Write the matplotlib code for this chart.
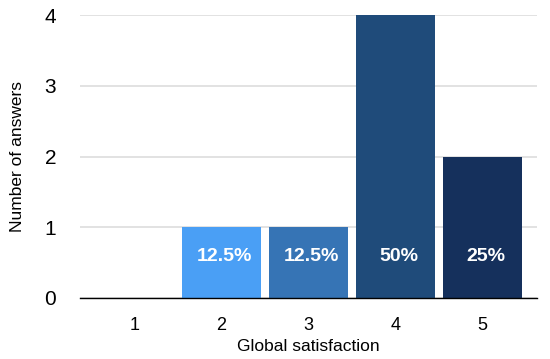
import matplotlib
matplotlib.use("Agg")
from matplotlib import pyplot as plt

plt.rcParams["font.family"] = ["Liberation Sans", "DejaVu Sans"]

# 数据
categories = [1, 2, 3, 4, 5]
answers = [0, 1, 1, 4, 2]
percent_labels = ["", "12.5%", "12.5%", "50%", "25%"]
bar_colors = ["#4A9FF5", "#4A9FF5", "#3674B5", "#1F4B7A", "#15305C"]

fig = plt.figure(figsize=(5.5, 3.59), dpi=100)
ax = fig.add_axes([0.145, 0.170, 0.831, 0.788])

ax.bar(categories, answers, width=0.91, color=bar_colors, zorder=2)

# 百分比标签
for x, v, lab in zip(categories, answers, percent_labels):
    if lab:
        ax.text(x + 0.04, 0.58, lab, ha="center", va="center",
                color="white", fontsize=14, fontweight="bold", zorder=3)

ax.set_xlim(0.37, 5.63)
ax.set_ylim(0, 4)
ax.set_xticks(categories)
ax.set_yticks([0, 1, 2, 3, 4])
ax.tick_params(axis="y", length=0, labelsize=15, pad=17)
ax.tick_params(axis="x", length=0, labelsize=13, pad=14)
ax.yaxis.grid(True, color="#DDDDDD", linewidth=1.2, zorder=0)
ax.set_axisbelow(True)

for side in ["top", "right", "left"]:
    ax.spines[side].set_visible(False)
ax.spines["bottom"].set_color("black")
ax.spines["bottom"].set_linewidth(1.0)
ax.spines["bottom"].set_zorder(4)

ax.set_xlabel("Global satisfaction", fontsize=12.5, labelpad=3)
ax.set_ylabel("Number of answers", fontsize=12.5, labelpad=14)

fig.savefig("out.png", dpi=100)
